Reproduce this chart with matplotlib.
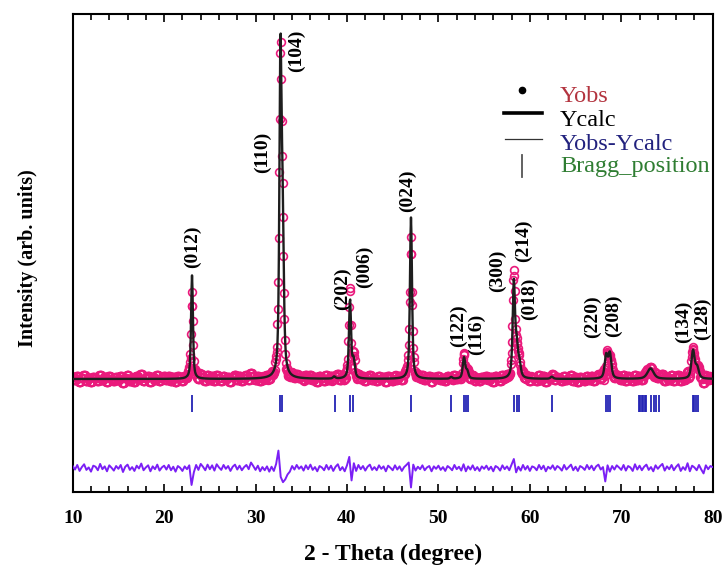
import numpy as np
import matplotlib
matplotlib.use("Agg")
import matplotlib.pyplot as plt
from matplotlib.lines import Line2D
from matplotlib.ticker import MultipleLocator

plt.rcParams["font.family"] = ["Liberation Serif", "DejaVu Serif"]

# ---- refined reflection list (2-theta, peak height, FWHM) ----
peak_pos = [23.05, 32.72, 32.95, 38.60, 40.33, 40.72, 47.00, 51.40, 52.80, 53.15,
            58.25, 58.55, 58.85, 62.40, 68.35, 68.75, 73.20, 77.85, 78.30]
peak_height = [29.5, 86.5, 42.0, 0.6, 22.5, 5.0, 46.0, 0.5, 6.0, 2.0,
               27.0, 8.0, 4.0, 0.6, 6.5, 7.0, 3.0, 8.0, 3.0]
peak_fwhm = [0.24, 0.27, 0.32, 0.30, 0.27, 0.32, 0.27, 0.30, 0.32, 0.32,
             0.30, 0.32, 0.36, 0.35, 0.38, 0.38, 0.80, 0.42, 0.42]
background = 0.0

# ---- Bragg reflection positions ----
bragg_pos = [23.07, 32.71, 32.90, 38.65, 40.32, 40.69, 46.99, 51.36, 52.75, 52.98,
             53.20, 58.30, 58.58, 58.86, 62.38, 68.35, 68.55, 68.80, 71.95, 72.10,
             72.25, 72.40, 72.55, 72.75, 73.30, 73.55, 73.80, 74.10, 77.81, 77.99,
             78.17, 78.36]

# ---- observed minus calculated, every 0.25 deg from 10 to 80 ----
resid = [
    0.6, -0.4, 0.9, -0.8, 0.3, 1.1, -0.5, 0.2, -1.0, 0.7, 0.4, -0.6, 1.2, -0.3, 0.5, -0.9, 0.8, 0.1, -0.7, 0.6,
    -0.2, 0.9, -1.1, 0.4, 1.0, -0.5, 0.3, -0.8, 0.7, -0.1, 1.3, -0.6, 0.2, 0.8, -0.9, 0.5, -0.3, 1.0, -0.7, 0.2,
    0.7, -0.4, 0.9, -0.6, 0.4, -1.0, 0.6, 0.1, -0.8, 0.5, -0.3, 0.8, -4.8, -1.2, 0.9, -0.5, 1.2, 0.4, -0.6, 1.0,
    -0.3, 0.8, -0.7, 1.1, 0.2, -0.5, 0.9, -0.2, 0.6, -0.8, 0.4, 1.0, -0.4, 0.7, -0.6, 0.3, 0.9, -0.3, 1.6, 0.6,
    -0.5, 0.7, -0.9, 0.3, -0.6, 0.5, -1.0, 0.4, -0.8, 1.2, 5.0, -2.5, -4.0, -3.2, -1.8, -1.0, 0.6, -0.4, 0.9, -0.2,
    0.5, -0.7, 0.8, -0.3, 1.0, -0.5, 0.3, -0.9, 0.6, 0.2, -0.6, 0.9, -0.4, 0.7, -0.8, 0.4, 1.1, -0.6, 0.3, -0.9,
    0.8, 3.2, -3.5, 1.4, -0.8, 0.9, -0.3, 0.6, -0.7, 0.4, 1.0, -0.5, 0.3, -0.6, 0.8, -0.2, 0.5, -0.9, 0.7, 0.1,
    -0.6, 0.8, -0.4, 0.5, -0.8, 0.3, 0.9, 1.6, -5.5, 1.0, -0.7, 0.4, -0.3, 0.8, -0.6, 0.2, 0.6, -0.9, 0.5, -0.2,
    0.7, -0.5, 0.3, -0.8, 0.6, 0.1, -0.6, 0.9, -0.3, 0.4, -0.7, 1.1, -0.9, 0.5, -0.4, 0.8, -0.6, 0.3, -0.8, 0.5,
    -0.2, 0.7, -0.5, 0.4, -0.9, 0.6, 0.2, -0.7, 0.8, -0.3, 0.5, -0.6, 1.0, 2.6, -1.2, 0.4, -0.7, 0.9, -0.4, 0.6,
    -0.8, 0.5, 0.2, -0.6, 0.9, -0.3, 0.7, -0.9, 0.4, -0.2, 0.8, -0.5, 0.6, 0.1, -0.7, 0.9, -0.4, 0.3, 1.0, -0.6,
    0.4, -0.8, 0.6, 0.2, -0.5, 0.9, -0.3, 0.7, -0.6, 0.5, 1.0, -0.4, 0.3, -3.8, 0.8, -1.0, 0.6, -0.4, 0.8, 0.2,
    -0.5, 0.9, -0.7, 0.6, 0.2, -0.8, 1.1, -0.4, 0.7, -0.6, 0.4, 1.0, -0.5, 0.3, -0.9, 0.8, -0.2, 0.6, 1.2, -0.7,
    0.5, -0.3, 0.9, -0.6, 0.4, 1.1, -0.8, 0.3, -0.5, 1.4, -0.9, 0.7, 0.2, -0.6, 0.9, -0.4, -1.5, 0.8, -0.3, 0.6,
    0.3,
]

# ---- Miller-index annotations ----
hkl_labels = ["(012)", "(110)", "(104)", "(202)", "(006)", "(024)", "(122)", "(116)",
              "(300)", "(214)", "(018)", "(220)", "(208)", "(134)", "(128)"]
hkl_x = [23.05, 30.8, 34.5, 39.55, 41.95, 46.65, 52.15, 54.2, 56.5, 59.25, 60.0,
         66.8, 69.1, 76.75, 78.85]
hkl_y = [31.6, 58.7, 87.5, 19.7, 25.9, 47.6, 9.1, 6.8, 24.8, 33.3, 16.8,
         11.7, 12.0, 10.3, 11.1]

DIFF_OFFSET = -25.4
BRAGG_LO, BRAGG_HI = -9.4, -4.6


def pseudo_voigt(x, pos, h, w, eta=0.6):
    u = (x - pos) / (w / 2.0)
    return h * (eta / (1.0 + u ** 2) + (1.0 - eta) * np.exp(-np.log(2.0) * u ** 2))


two_theta = np.round(10.0 + 0.05 * np.arange(1401), 2)
ycalc = np.full_like(two_theta, background)
for p, h, w in zip(peak_pos, peak_height, peak_fwhm):
    ycalc += pseudo_voigt(two_theta, p, h, w)

resid = np.asarray(resid)
coarse_idx = np.rint((two_theta - 10.0) / 0.25).astype(int)
yobs = ycalc + resid[coarse_idx]
diff = yobs[::5] - ycalc[::5]

W, H = 723, 574
fig = plt.figure(figsize=(W / 100, H / 100), dpi=100)
ax = fig.add_axes([72.7 / W, 1 - 492 / H, 640 / W, 478 / H])

ax.plot(two_theta, yobs, "o", ms=5.6, mfc="none", mec="#ea1a7c", mew=1.2, zorder=2)
ax.plot(two_theta, ycalc, color="#1e1e1e", lw=1.7, zorder=3)
ax.plot(two_theta[::5], diff + DIFF_OFFSET, color="#7b1ff5", lw=1.4, zorder=3)
ax.vlines(bragg_pos, BRAGG_LO, BRAGG_HI, color="#2323b4", lw=1.3, zorder=3)

for lab, xx, yy in zip(hkl_labels, hkl_x, hkl_y):
    ax.text(xx, yy, lab, rotation=90, ha="center", va="bottom",
            fontsize=14, fontweight="bold", color="black", zorder=4)

ax.set_xlim(10, 80)
ax.set_ylim(-32.2, 104.0)
ax.xaxis.set_major_locator(MultipleLocator(10))
ax.xaxis.set_minor_locator(MultipleLocator(2))
ax.tick_params(axis="x", which="both", direction="in", top=True, bottom=True,
               width=1.2, labelsize=14, pad=13)
ax.tick_params(axis="x", which="major", length=6)
ax.tick_params(axis="x", which="minor", length=4)
ax.tick_params(axis="y", left=False, right=False, labelleft=False)
for lbl in ax.get_xticklabels():
    lbl.set_fontweight("bold")
for s in ax.spines.values():
    s.set_linewidth(1.5)

ax.set_xlabel("2 - Theta (degree)", fontsize=17, fontweight="bold", labelpad=12)
fig.text(28 / W, 1 - 258 / H, "Intensity (arb. units)", rotation=90, ha="center",
         va="center", fontsize=14.5, fontweight="bold")


# ---- legend, laid out in figure pixels ----
def fx(px):
    return px / W


def fy(py):
    return 1 - py / H


fig.add_artist(Line2D([fx(522)], [fy(90)], marker="o", ms=4.5, color="black",
                      transform=fig.transFigure))
fig.add_artist(Line2D([fx(504), fx(542)], [fy(113), fy(113)], lw=2.6, color="black",
                      transform=fig.transFigure))
fig.add_artist(Line2D([fx(505), fx(542)], [fy(139), fy(139)], lw=0.9, color="#333333",
                      transform=fig.transFigure))
fig.add_artist(Line2D([fx(522), fx(522)], [fy(155), fy(177)], lw=1.3, color="#555555",
                      transform=fig.transFigure))
legend_items = [("Yobs", "#b3343f", 102), ("Ycalc", "black", 126),
                ("Yobs-Ycalc", "#22227e", 150), ("Bragg_position", "#2f7d32", 172)]
for txt, col, base in legend_items:
    fig.text(fx(560), fy(base), txt, color=col, fontsize=17.5, ha="left", va="baseline")

fig.savefig("out.png", dpi=100)
